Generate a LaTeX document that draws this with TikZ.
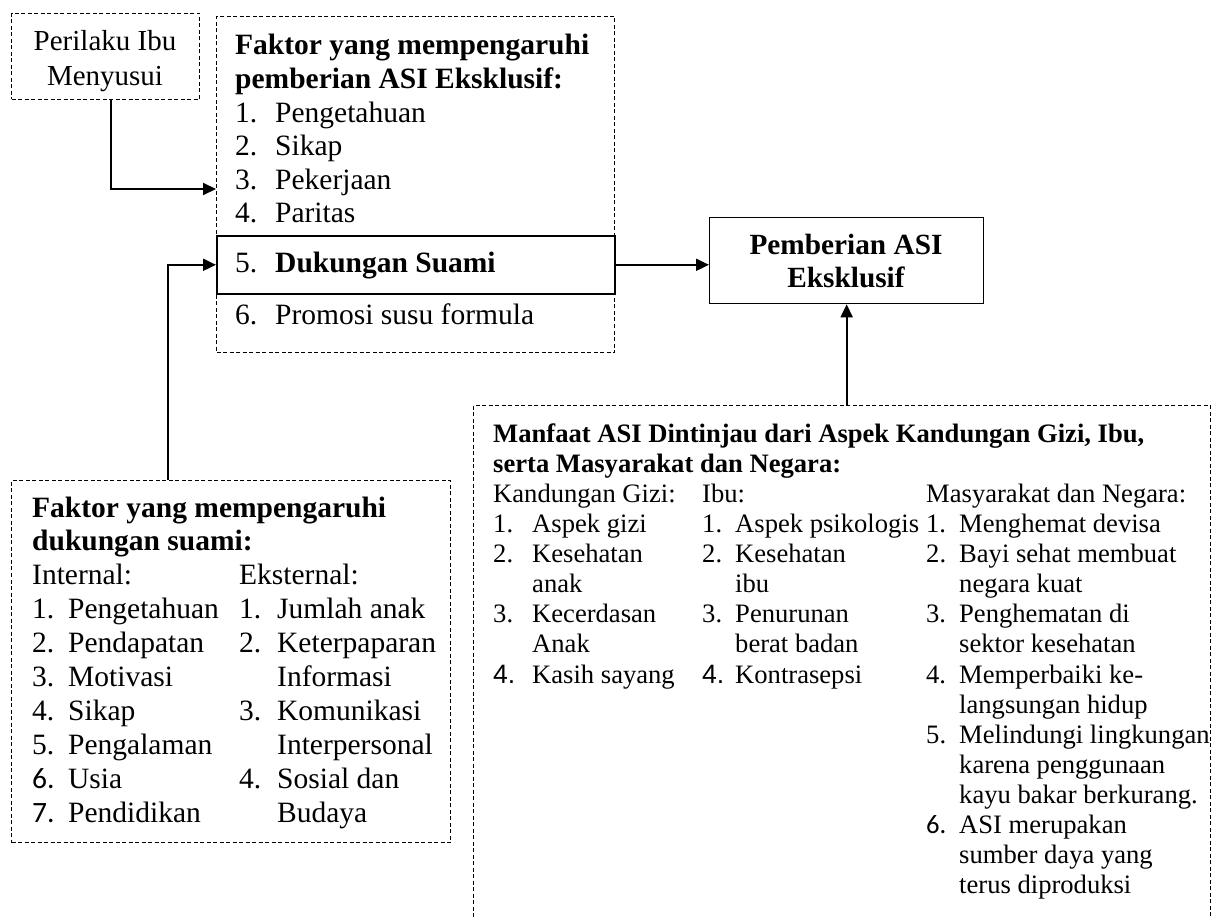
\documentclass[tikz,border=0pt]{standalone}
\usepackage{fontspec}
\setmainfont{Liberation Serif}
\newfontfamily\calib{Carlito}
\newfontfamily\arialf{Liberation Sans}
\usepackage{array}
\usetikzlibrary{arrows.meta}
\begin{document}
\begin{tikzpicture}[x=1pt,y=-1pt,
  dbox/.style={draw, dash pattern=on 4pt off 2.5pt, line width=1pt, inner sep=0pt, anchor=north west},
  sbox/.style={draw, line width=1.6pt, inner sep=0pt, anchor=north west},
  conn/.style={line width=2pt, -{Triangle[length=13pt,width=12pt]}},
  txt/.style={inner sep=0pt, anchor=base west}]
\useasboundingbox (0,0) rectangle (1216,917);
\clip (0,0) rectangle (1216,917);

% boxes
\node[dbox, minimum width=188pt, minimum height=86pt] (perilaku) at (11,13) {};
\node[dbox, minimum width=398pt, minimum height=336pt] (box1) at (216,16) {};
\node[sbox, minimum width=398pt, minimum height=58pt] (duk) at (216,235) {};
\node[sbox, line width=1.3pt, minimum width=274pt, minimum height=86pt] (pemb) at (709,217) {};
\node[dbox, minimum width=439pt, minimum height=362pt] (box2) at (11,480) {};
\node[dbox, minimum width=737pt, minimum height=560pt] (box3) at (473,405) {};

% texts
\node[txt, anchor=base] (tperilaku) at (105,51) {\fontsize{29}{35}\selectfont
  \begin{tabular}[t]{@{}c@{}}Perilaku Ibu\\Menyusui\end{tabular}};

\node[txt, anchor=base] (tpemb) at (846,255) {\fontsize{29.3}{33}\selectfont\bfseries
  \begin{tabular}[t]{@{}c@{}}Pemberian ASI\\Eksklusif\end{tabular}};

\node[txt] (tbox1) at (235,55) {\fontsize{29.5}{33.6}\selectfont
  \begin{tabular}[t]{@{}p{40pt}@{}l@{}}
  \multicolumn{2}{@{}l@{}}{\bfseries Faktor yang mempengaruhi}\\
  \multicolumn{2}{@{}l@{}}{\bfseries pemberian ASI Eksklusif:}\\
  1.&Pengetahuan\\
  2.&Sikap\\
  3.&Pekerjaan\\
  4.&Paritas
  \end{tabular}};

\node[txt] (tduk) at (235,273) {\fontsize{29.5}{33.6}\selectfont\makebox[40pt][l]{5.}\textbf{Dukungan Suami}};
\node[txt] (tpromo) at (235,325) {\fontsize{29.5}{33.6}\selectfont\makebox[40pt][l]{6.}Promosi susu formula};

\node[txt] (tbox2) at (32,517) {\fontsize{29.5}{33.9}\selectfont
  \begin{tabular}[t]{@{}p{36pt}@{}p{171pt}@{}p{38pt}@{}l@{}}
  \multicolumn{4}{@{}l@{}}{\bfseries Faktor yang mempengaruhi}\\
  \multicolumn{4}{@{}l@{}}{\bfseries dukungan suami:}\\
  \multicolumn{2}{@{}p{207pt}@{}}{Internal:}&\multicolumn{2}{@{}l@{}}{Eksternal:}\\
  1.&Pengetahuan&1.&Jumlah anak\\
  2.&Pendapatan&2.&Keterpaparan\\
  3.&Motivasi&&Informasi\\
  4.&Sikap&3.&Komunikasi\\
  5.&Pengalaman&&Interpersonal\\
  {\calib 6.}&Usia&4.&Sosial dan\\
  {\calib 7.}&Pendidikan&&Budaya
  \end{tabular}};

\node[txt] (tbox3) at (493,442) {\fontsize{26.6}{30.13}\selectfont
  \begin{tabular}[t]{@{}p{39pt}@{}p{170pt}@{}p{33pt}@{}p{191pt}@{}p{33pt}@{}l@{}}
  \multicolumn{6}{@{}l@{}}{\bfseries Manfaat ASI Dintinjau dari Aspek Kandungan Gizi, Ibu,}\\
  \multicolumn{6}{@{}l@{}}{\bfseries serta Masyarakat dan Negara:}\\
  \multicolumn{2}{@{}p{209pt}@{}}{Kandungan Gizi:}&\multicolumn{2}{@{}p{224pt}@{}}{Ibu:}&\multicolumn{2}{@{}l@{}}{Masyarakat dan Negara:}\\
  1.&Aspek gizi&1.&Aspek psikologis&1.&Menghemat devisa\\
  2.&Kesehatan&2.&Kesehatan&2.&Bayi sehat membuat\\
  &anak&&ibu&&negara kuat\\
  3.&Kecerdasan&3.&Penurunan&3.&Penghematan di\\
  &Anak&&berat badan&&sektor kesehatan\\
  {\arialf 4.}&Kasih sayang&{\arialf 4.}&Kontrasepsi&4.&Memperbaiki ke-\\
  &&&&&langsungan hidup\\
  &&&&5.&Melindungi lingkungan\\
  &&&&&karena penggunaan\\
  &&&&&kayu bakar berkurang.\\
  &&&&{\calib 6.}&ASI merupakan\\
  &&&&&sumber daya yang\\
  &&&&&terus diproduksi
  \end{tabular}};

% connectors
\coordinate (a1) at (111,189);
\coordinate (a2) at (168,264);
\draw[conn] (perilaku.south -| a1) |- (box1.west |- a1);
\draw[conn] (box2.north -| a2) |- (duk.west);
\draw[conn] (duk.east) -- (pemb.west |- duk.east);
\draw[conn] (box3.north -| pemb.south) -- (pemb.south);
\end{tikzpicture}
\end{document}
